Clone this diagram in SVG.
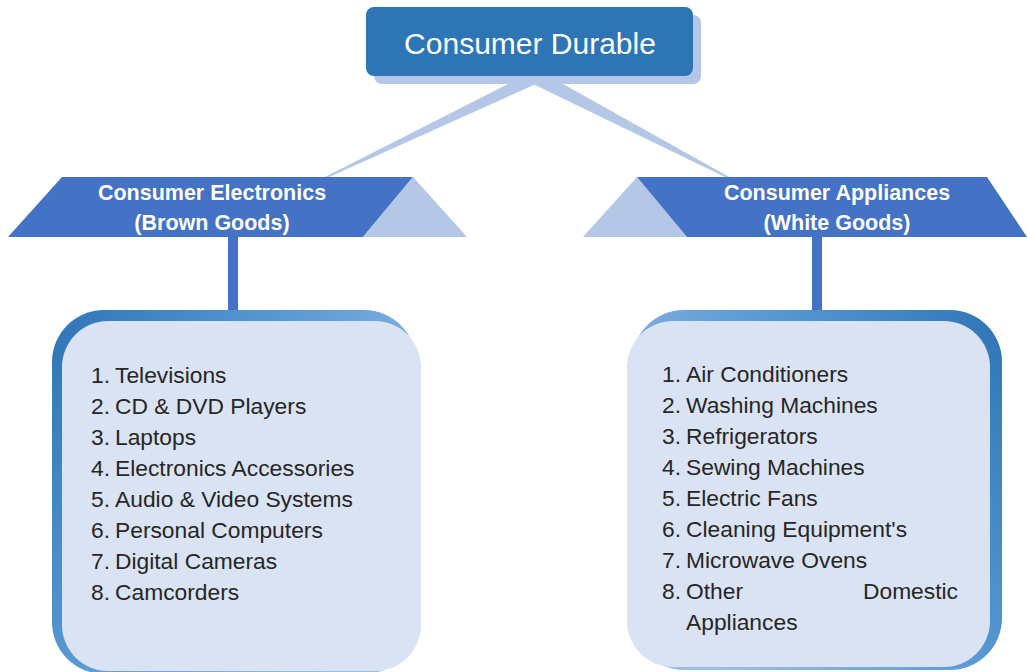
<svg xmlns="http://www.w3.org/2000/svg" width="1027" height="672" viewBox="0 0 1027 672">
<style>
.title{font-family:"Liberation Sans",Arial,sans-serif;font-size:30px;fill:#ffffff}
.hdr{font-family:"Liberation Sans",Arial,sans-serif;font-size:21.5px;font-weight:bold;fill:#ffffff;text-anchor:middle}
.item{font-family:"Liberation Sans",Arial,sans-serif;font-size:22.8px;fill:#262626}
.dark{fill:#4472c4}
.light{fill:#b4c7e7}
.inner{fill:#dae3f3}
</style>
<defs>
<linearGradient id="bdrL" x1="0" y1="0" x2="1" y2="0.6">
<stop offset="0" stop-color="#2e75b6"/>
<stop offset="0.5" stop-color="#5b9bd5"/>
<stop offset="1" stop-color="#9dbde6"/>
</linearGradient>
<linearGradient id="bdrR" x1="1" y1="0" x2="0" y2="0.6">
<stop offset="0" stop-color="#2e75b6"/>
<stop offset="0.5" stop-color="#5b9bd5"/>
<stop offset="1" stop-color="#9dbde6"/>
</linearGradient>
</defs>
<rect width="1027" height="672" fill="#ffffff"/>
<g id="connectors">
<polygon class="light" points="508,84 536,84 327,178 323,178"/>
<polygon class="light" points="533,84 563,84 731,178 727,178"/>
<rect class="dark" x="228" y="236" width="10" height="78"/>
<rect class="dark" x="812" y="236" width="10" height="78"/>
</g>
<g id="node-root">
<rect class="light" x="374" y="15" width="327" height="69" rx="8"/>
<rect x="366" y="7" width="327" height="69" rx="8" fill="#2e75b6"/>
<text class="title" x="530" y="54" text-anchor="middle">Consumer Durable</text>
</g>
<g id="node-electronics">
<polygon class="dark" points="62,177 413,177 363,237 8,237"/>
<polygon class="light" points="413,177 467,237 363,237"/>
<text class="hdr" x="212" y="200">Consumer Electronics</text>
<text class="hdr" x="212" y="230">(Brown Goods)</text>
</g>
<g id="node-appliances">
<polygon class="light" points="637,177 687,237 583,237"/>
<polygon class="dark" points="637,177 987,177 1027,237 687,237"/>
<text class="hdr" x="837" y="200">Consumer Appliances</text>
<text class="hdr" x="837" y="230">(White Goods)</text>
</g>
<g id="node-electronics-list">
<rect x="52" y="310" width="364" height="364" rx="52" fill="url(#bdrL)"/>
<rect class="inner" x="62" y="321" width="359" height="350" rx="46"/>
<text class="item" y="383"><tspan x="91">1.</tspan><tspan x="115">Televisions</tspan></text>
<text class="item" y="414"><tspan x="91">2.</tspan><tspan x="115">CD &amp; DVD Players</tspan></text>
<text class="item" y="445"><tspan x="91">3.</tspan><tspan x="115">Laptops</tspan></text>
<text class="item" y="476"><tspan x="91">4.</tspan><tspan x="115">Electronics Accessories</tspan></text>
<text class="item" y="507"><tspan x="91">5.</tspan><tspan x="115">Audio &amp; Video Systems</tspan></text>
<text class="item" y="538"><tspan x="91">6.</tspan><tspan x="115">Personal Computers</tspan></text>
<text class="item" y="569"><tspan x="91">7.</tspan><tspan x="115">Digital Cameras</tspan></text>
<text class="item" y="600"><tspan x="91">8.</tspan><tspan x="115">Camcorders</tspan></text>
</g>
<g id="node-appliances-list">
<rect x="632" y="310" width="370" height="360" rx="52" fill="url(#bdrR)"/>
<rect class="inner" x="627" y="321" width="363" height="346" rx="46"/>
<text class="item" y="382"><tspan x="662">1.</tspan><tspan x="686">Air Conditioners</tspan></text>
<text class="item" y="413"><tspan x="662">2.</tspan><tspan x="686">Washing Machines</tspan></text>
<text class="item" y="444"><tspan x="662">3.</tspan><tspan x="686">Refrigerators</tspan></text>
<text class="item" y="475"><tspan x="662">4.</tspan><tspan x="686">Sewing Machines</tspan></text>
<text class="item" y="506"><tspan x="662">5.</tspan><tspan x="686">Electric Fans</tspan></text>
<text class="item" y="537"><tspan x="662">6.</tspan><tspan x="686">Cleaning Equipment's</tspan></text>
<text class="item" y="568"><tspan x="662">7.</tspan><tspan x="686">Microwave Ovens</tspan></text>
<text class="item" y="599"><tspan x="662">8.</tspan><tspan x="686">Other</tspan></text>
<text class="item" x="958" y="599" text-anchor="end">Domestic</text>
<text class="item" x="686" y="630">Appliances</text>
</g>
</svg>
